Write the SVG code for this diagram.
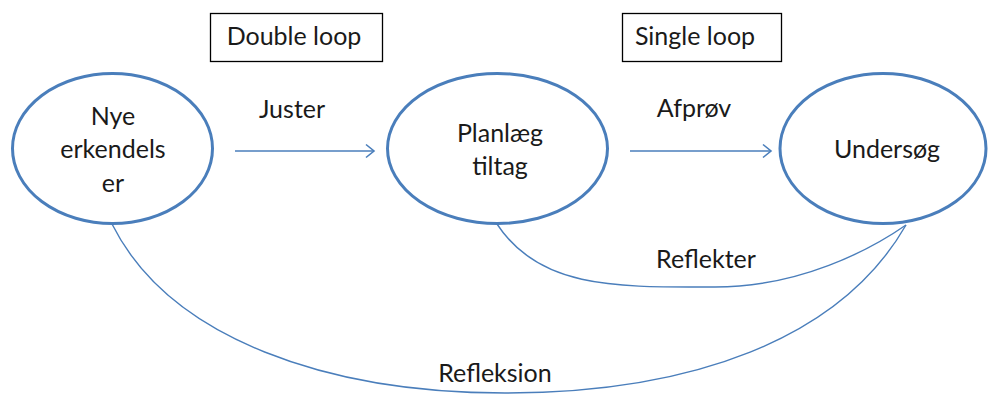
<svg xmlns="http://www.w3.org/2000/svg" width="989" height="398" viewBox="0 0 989 398">
<defs>
<style>
.node{fill:#ffffff;stroke:#4a7ebb;stroke-width:3}
.lbl{font-family:Lato,"Liberation Sans",sans-serif;font-size:25px;fill:#1a1a1a;text-anchor:middle}
.box{fill:#ffffff;stroke:#000000;stroke-width:1.3}
.conn{fill:none;stroke:#4a7ebb;stroke-width:1.4}
</style>
<marker id="arr" markerWidth="14" markerHeight="16" refX="11" refY="8" orient="auto" markerUnits="userSpaceOnUse">
<path d="M3,1.5 L11,8 L3,14.5" fill="none" stroke="#4a7ebb" stroke-width="1.6"/>
</marker>
</defs>
<rect width="989" height="398" fill="#ffffff"/>
<g id="label-double-loop">
<rect class="box" x="210.5" y="13.5" width="172" height="48"/>
<text class="lbl" x="294" y="45">Double loop</text>
</g>
<g id="label-single-loop">
<rect class="box" x="622.5" y="13.5" width="159" height="48"/>
<text class="lbl" x="695" y="45">Single loop</text>
</g>
<g id="connectors">
<line class="conn" x1="235" y1="151" x2="374" y2="151" marker-end="url(#arr)"/>
<line class="conn" x1="630" y1="151" x2="771" y2="151" marker-end="url(#arr)"/>
<path class="conn" d="M497,224 C540,290 620,287 715,287 C800,287 870,250 906,225"/>
<path class="conn" d="M112,224 C170,340 330,393 505,393 C690,393 840,340 906,225"/>
<text class="lbl" x="292" y="118">Juster</text>
<text class="lbl" x="694" y="117">Afprøv</text>
<text class="lbl" x="706" y="268">Reflekter</text>
<text class="lbl" x="495" y="382">Refleksion</text>
</g>
<g id="node-nye">
<ellipse class="node" cx="112.5" cy="148.5" rx="100" ry="75"/>
<text class="lbl" x="113" y="125">Nye</text>
<text class="lbl" x="113" y="158">erkendels</text>
<text class="lbl" x="113" y="192">er</text>
</g>
<g id="node-planlaeg">
<ellipse class="node" cx="497.5" cy="148.5" rx="110" ry="75"/>
<text class="lbl" x="500" y="142">Planlæg</text>
<text class="lbl" x="500" y="175">tiltag</text>
</g>
<g id="node-undersoeg">
<ellipse class="node" cx="883" cy="148.5" rx="103" ry="75"/>
<text class="lbl" x="887" y="158">Undersøg</text>
</g>
</svg>
